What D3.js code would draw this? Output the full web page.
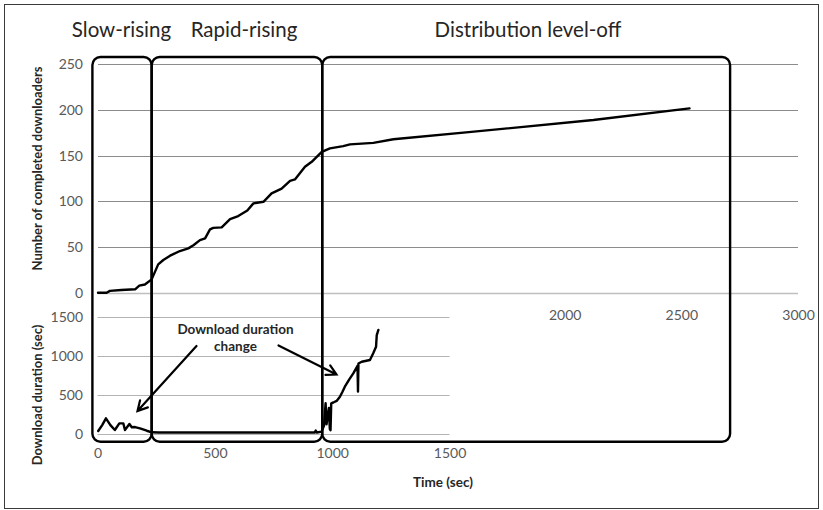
<!DOCTYPE html>
<html>
<head>
<meta charset="utf-8">
<script src="https://cdn.jsdelivr.net/npm/d3@7"></script>
<style>
  html, body { margin: 0; padding: 0; background: #fff; }
  svg { display: block; }
  text { font-family: Lato, "Open Sans", sans-serif; }
</style>
</head>
<body>
<svg id="chart" width="823" height="510"></svg>
<script>
// Cumulative number of completed downloaders over time
const completedTime = [0, 37, 51, 100, 159, 177, 201, 230, 258, 280, 309, 351, 387, 409, 437, 459, 480, 494, 530, 566, 601, 640, 666, 709, 744, 787, 823, 844, 887, 916, 959, 994, 1051, 1080, 1180, 1266, 1600, 2123, 2535];
const completedCount = [0, 0, 2, 3, 3.7, 7.7, 9, 14.6, 31, 35.8, 40.5, 45.6, 48.5, 52, 57.6, 59.5, 69.3, 71, 71.5, 80.6, 83.9, 90, 97.8, 99.5, 108.7, 114, 122.5, 124, 137.8, 143.3, 154.2, 158, 160.5, 162.3, 164, 168, 176, 189, 201.7];

// Download duration of each finished download over time
const durationTime = [3, 20, 36, 55, 74, 93, 110, 117, 136, 146, 160, 181, 210, 231, 260, 400, 600, 800, 925, 930, 935, 955, 965, 972, 976, 982, 986, 990, 993, 996, 1005, 1019, 1033, 1044, 1054, 1073, 1090, 1108, 1110, 1112, 1126, 1161, 1175, 1187, 1190, 1197];
const durationSec = [35, 110, 197, 110, 47, 133, 133, 47, 124, 82, 85, 69, 38, 18, 15, 15, 15, 15, 15, 40, 15, 26, 100, 390, 120, 250, 330, 60, 45, 390, 400, 420, 474, 538, 603, 697, 774, 870, 540, 900, 923, 945, 1031, 1115, 1265, 1330];

// Axis ticks (the upper time axis shows only the labels beyond the overlaid chart)
const countTicks = [0, 50, 100, 150, 200, 250];
const topTimeTicks = [2000, 2500, 3000];
const durationTicks = [0, 500, 1000, 1500];
const bottomTimeTicks = [0, 500, 1000, 1500];

// Distribution phases (time boundaries in seconds)
const phaseNames = ["Slow-rising", "Rapid-rising", "Distribution level-off"];
const phaseStart = [-24, 230, 961];
const phaseEnd = [230, 961, 2709];

const svg = d3.select("#chart");
const fmt = d3.format("d");

// Outer frame
svg.append("rect")
  .attr("x", 4.5).attr("y", 4.5).attr("width", 814).attr("height", 504)
  .attr("fill", "#fff").attr("stroke", "#3a3a3a").attr("stroke-width", 1);

// ---------- Upper chart: completed downloaders ----------
const xTop = d3.scaleLinear().domain([0, 3000]).range([98, 798]);
const yTop = d3.scaleLinear().domain([0, 250]).range([292.7, 64.3]);

const gTop = svg.append("g");
gTop.selectAll("line.grid").data(countTicks).join("line")
  .attr("class", "grid")
  .attr("x1", xTop(0)).attr("x2", xTop(3000))
  .attr("y1", d => Math.round(yTop(d)) + 0.5).attr("y2", d => Math.round(yTop(d)) + 0.5)
  .attr("stroke", d => d === 0 ? "#bfbfbf" : "#8c8c8c").attr("stroke-width", d => d === 0 ? 1.5 : 1);

const styleTicks = g => g.selectAll("text").attr("font-size", 14).attr("fill", "#595959").attr("font-family", "Lato");

gTop.append("g").attr("transform", "translate(83,0)")
  .call(d3.axisLeft(yTop).tickValues(countTicks).tickFormat(fmt).tickSize(0).tickPadding(0))
  .call(g => g.select(".domain").remove())
  .call(styleTicks);

gTop.append("g").attr("transform", "translate(0,310)")
  .call(d3.axisBottom(xTop).tickValues(topTimeTicks).tickFormat(fmt).tickSize(0).tickPadding(0))
  .call(g => g.select(".domain").remove())
  .call(styleTicks);

gTop.append("text")
  .attr("transform", `translate(42,${(yTop(0) + yTop(250)) / 2 - 10}) rotate(-90)`)
  .attr("text-anchor", "middle").attr("font-size", 13).attr("font-weight", "bold").attr("fill", "#262626")
  .text("Number of completed downloaders");

const lineTop = d3.line().x(i => xTop(completedTime[i])).y(i => yTop(completedCount[i]));
gTop.append("path")
  .attr("d", lineTop(d3.range(completedTime.length)))
  .attr("fill", "none").attr("stroke", "#000").attr("stroke-width", 2.4)
  .attr("stroke-linejoin", "round").attr("stroke-linecap", "round");

// ---------- Lower chart: download duration ----------
const xBot = d3.scaleLinear().domain([0, 1500]).range([97.5, 449.5]);
const yBot = d3.scaleLinear().domain([0, 1500]).range([433.7, 316.7]);

const gBot = svg.append("g");
gBot.selectAll("line.grid").data(durationTicks).join("line")
  .attr("class", "grid")
  .attr("x1", xBot(0)).attr("x2", xBot(1500))
  .attr("y1", d => Math.round(yBot(d)) + 0.5).attr("y2", d => Math.round(yBot(d)) + 0.5)
  .attr("stroke", "#b4b4b4").attr("stroke-width", 1.2);

gBot.append("g").attr("transform", "translate(83,0)")
  .call(d3.axisLeft(yBot).tickValues(durationTicks).tickFormat(fmt).tickSize(0).tickPadding(0))
  .call(g => g.select(".domain").remove())
  .call(styleTicks);

gBot.append("g").attr("transform", "translate(0,448)")
  .call(d3.axisBottom(xBot).tickValues(bottomTimeTicks).tickFormat(fmt).tickSize(0).tickPadding(0))
  .call(g => g.select(".domain").remove())
  .call(styleTicks);

gBot.append("text")
  .attr("transform", `translate(42,395) rotate(-90)`)
  .attr("text-anchor", "middle").attr("font-size", 13).attr("font-weight", "bold").attr("fill", "#262626")
  .text("Download duration (sec)");

gBot.append("text")
  .attr("x", 443).attr("y", 487)
  .attr("text-anchor", "middle").attr("font-size", 13.5).attr("font-weight", "bold").attr("fill", "#262626")
  .text("Time (sec)");

const lineBot = d3.line().x(i => xBot(durationTime[i])).y(i => yBot(durationSec[i]));
gBot.append("path")
  .attr("d", lineBot(d3.range(durationTime.length)))
  .attr("fill", "none").attr("stroke", "#000").attr("stroke-width", 2.4)
  .attr("stroke-linejoin", "round").attr("stroke-linecap", "round");

// ---------- Phase boxes ----------
const boxTop = yTop(258);
const boxBottom = yBot(-103);
const gPhase = svg.append("g");
phaseNames.forEach((name, i) => {
  const x0 = xTop(phaseStart[i]);
  const x1 = xTop(phaseEnd[i]);
  gPhase.append("rect")
    .attr("x", x0).attr("y", boxTop)
    .attr("width", x1 - x0).attr("height", boxBottom - boxTop)
    .attr("rx", 8).attr("ry", 8)
    .attr("fill", "none").attr("stroke", "#000").attr("stroke-width", 2.4);
});

const labelCenters = [121.5, 244, 528];
phaseNames.forEach((name, i) => {
  gPhase.append("text")
    .attr("x", labelCenters[i]).attr("y", 37)
    .attr("text-anchor", "middle").attr("font-size", 20.5).attr("fill", "#262626")
    .text(name);
});

// ---------- Annotation: duration change ----------
const gNote = svg.append("g");
gNote.append("text")
  .attr("text-anchor", "middle").attr("font-size", 13.5).attr("font-weight", "bold").attr("fill", "#262626")
  .selectAll("tspan").data(["Download duration", "change"]).join("tspan")
  .attr("x", 235.5).attr("y", (d, i) => 334 + i * 17).text(d => d);

function arrow(x1, y1, x2, y2) {
  const ang = Math.atan2(y2 - y1, x2 - x1);
  const L = 11, spread = 0.5;
  const p1 = [x2 - L * Math.cos(ang - spread), y2 - L * Math.sin(ang - spread)];
  const p2 = [x2 - L * Math.cos(ang + spread), y2 - L * Math.sin(ang + spread)];
  gNote.append("path")
    .attr("d", `M${x1},${y1}L${x2},${y2}M${p1[0]},${p1[1]}L${x2},${y2}L${p2[0]},${p2[1]}`)
    .attr("fill", "none").attr("stroke", "#000").attr("stroke-width", 2.2)
    .attr("stroke-linecap", "round").attr("stroke-linejoin", "miter");
}
arrow(196.5, 346, 137.5, 411);
arrow(278.5, 345.5, 336.5, 374.5);
</script>
</body>
</html>
